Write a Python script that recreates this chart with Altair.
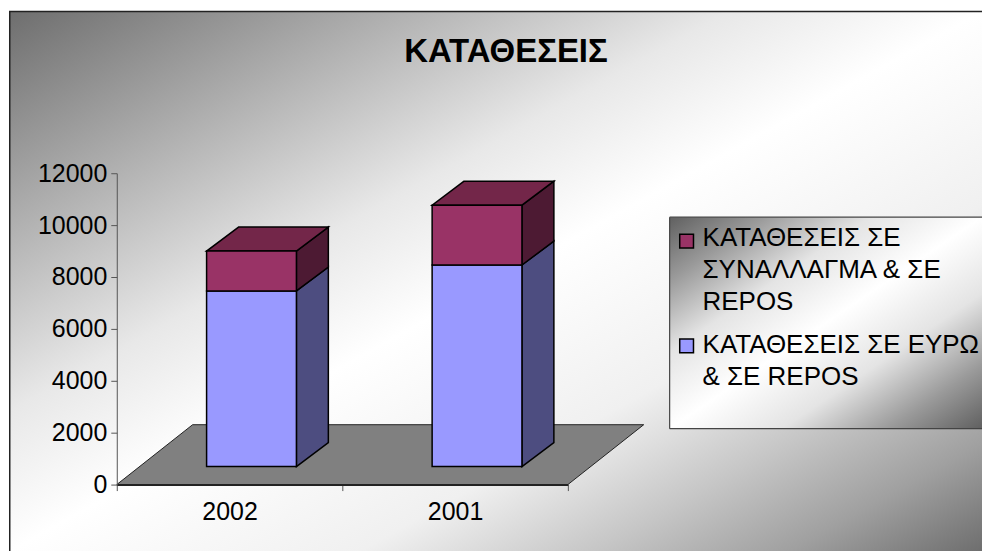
import altair as alt
import pandas as pd

CATEGORIES = ["2002", "2001"]
EURO = [6770, 7770]
FX = [1538, 2308]
YTICKS = [0, 2000, 4000, 6000, 8000, 10000, 12000]
LEGEND_LABELS = ["ΚΑΤΑΘΕΣΕΙΣ ΣΕ|ΣΥΝΑΛΛΑΓΜΑ & ΣΕ|REPOS", "ΚΑΤΑΘΕΣΕΙΣ ΣΕ ΕΥΡΩ|& ΣΕ REPOS"]
LEGEND_COLORS = ["#993366", "#9999FF"]
TITLE = "ΚΑΤΑΘΕΣΕΙΣ"

FONT = "Liberation Sans"
W, H = 452, 312
YMAX = 12000
# pseudo-3D projection, in data units (one category = 1 on x)
BAR_W = 90 / 226
BAR_FRONT = 90 / 226
BASE = 18 / 26 * 1000
DEPTH_X = 32 / 226
DEPTH_Y = 24 / 26 * 1000
FLOOR_X = 76 / 226
FLOOR_Y = 60 / 26 * 1000

sides, tops, fronts = [], [], []
for i, cat in enumerate(CATEGORIES):
    x0 = i + BAR_FRONT
    x1 = x0 + BAR_W
    levels = [BASE, BASE + EURO[i], BASE + EURO[i] + FX[i]]
    faces = [("euro", "#9999FF", "#4D4D80"), ("fx", "#993366", "#4D1A33")]
    for j, (name, front, side) in enumerate(faces):
        fronts.append(dict(x=x0, x2=x1, y=levels[j], y2=levels[j + 1], c=front))
        pid = f"{cat}-{name}"
        sides.append(dict(id=pid, x=x1, y=levels[j], y2=levels[j + 1], c=side))
        sides.append(dict(id=pid, x=x1 + DEPTH_X, y=levels[j] + DEPTH_Y,
                          y2=levels[j + 1] + DEPTH_Y, c=side))
    tops.append(dict(id=cat, y=levels[2], x=x0, x2=x1, c="#732649"))
    tops.append(dict(id=cat, y=levels[2] + DEPTH_Y, x=x0 + DEPTH_X, x2=x1 + DEPTH_X, c="#732649"))

floor = [dict(id="f", y=0, x=0, x2=2, c="#808080"),
         dict(id="f", y=FLOOR_Y, x=FLOOR_X, x2=2 + FLOOR_X, c="#808080")]

xs = alt.Scale(domain=[0, 2], range=[0, W])
ys = alt.Scale(domain=[0, YMAX], range=[H, 0], nice=False)
y_axis = alt.Axis(values=YTICKS, labelFont=FONT, labelFontSize=25, labelColor="black", labelPadding=4,
                  tickSize=6, tickColor="#555555", domainColor="#555555", grid=False, zindex=1,
                  format="d", title=None)
X = alt.X("x:Q", scale=xs, axis=None)
X2 = alt.X2("x2:Q")
Y = alt.Y("y:Q", scale=ys, axis=y_axis, title=None)
Y2 = alt.Y2("y2:Q")
C = alt.Color("c:N", scale=None)


def grad(stops):
    return alt.LinearGradient(
        gradient="linear", x1=0, y1=0, x2=1, y2=1,
        stops=[alt.GradientStop(offset=o, color=c) for o, c in stops])


BG_STOPS = [(0, "#6e6e6e"), (0.2, "#b0b0b0"), (0.37, "#e8e8e8"), (0.5, "#ffffff"),
            (0.68, "#f0f0f0"), (0.8, "#c6c6c6"), (0.9, "#a0a0a0"), (1, "#6e6e6e")]
BOX_STOPS = [(0, "#606060"), (0.15, "#9a9a9a"), (0.32, "#e4e4e4"), (0.5, "#ffffff"),
             (0.68, "#e4e4e4"), (0.85, "#9a9a9a"), (1, "#606060")]

one = alt.Data(values=[{"a": 1}])
L, R, T, B = -108, 867, -162, 379   # outer frame relative to the plot area
bg = alt.Chart(one).mark_rect(fill=grad(BG_STOPS)).encode(
    x=alt.value(L), x2=alt.value(R), y=alt.value(T), y2=alt.value(B))
border_top = alt.Chart(one).mark_rule(color="#222222", strokeWidth=1.5).encode(
    x=alt.value(L), x2=alt.value(R), y=alt.value(T))
border_left = alt.Chart(one).mark_rule(color="#222222", strokeWidth=1.5).encode(
    x=alt.value(L + 0.75), y=alt.value(T), y2=alt.value(B))

LX, LT, LB = 554, 44, 256
legend_box = alt.Chart(one).mark_rect(fill=grad(BOX_STOPS)).encode(
    x=alt.value(LX), x2=alt.value(R), y=alt.value(LT), y2=alt.value(LB))
lb_top = alt.Chart(one).mark_rule(color="#444444", strokeWidth=1.2).encode(
    x=alt.value(LX), x2=alt.value(R), y=alt.value(LT))
lb_bottom = alt.Chart(one).mark_rule(color="#444444", strokeWidth=1.2).encode(
    x=alt.value(LX), x2=alt.value(R), y=alt.value(LB))
lb_left = alt.Chart(one).mark_rule(color="#444444", strokeWidth=1.2).encode(
    x=alt.value(LX), y=alt.value(LT), y2=alt.value(LB))

# real axes: the band axis carries the category labels, ticks on band edges
cat_axis = alt.Chart(pd.DataFrame({"cat": CATEGORIES, "v": [0, 0]})).mark_point(opacity=0).encode(
    x=alt.X("cat:N", sort=CATEGORIES, title=None,
            scale=alt.Scale(domain=CATEGORIES, paddingInner=0, paddingOuter=0),
            axis=alt.Axis(bandPosition=0.5, tickBand="extent", labelAngle=0, labelFont=FONT, labelFontSize=25,
                          labelColor="black", labelPadding=9, tickSize=6, tickColor="#555555",
                          domainColor="#222222", domainWidth=2, grid=False, zindex=1)),
    y=alt.Y("v:Q", scale=ys, axis=y_axis, title=None),
)

floor_l = alt.Chart(pd.DataFrame(floor)).mark_area(orient="horizontal", stroke="#222222", strokeWidth=1).encode(
    y=Y, x=X, x2=X2, color=C, detail="id:N")
side_l = alt.Chart(pd.DataFrame(sides)).mark_area(orient="vertical", stroke="black", strokeWidth=1.5).encode(
    x=X, y=Y, y2=Y2, color=C, detail="id:N")
top_l = alt.Chart(pd.DataFrame(tops)).mark_area(orient="horizontal", stroke="black", strokeWidth=1.5).encode(
    y=Y, x=X, x2=X2, color=C, detail="id:N")
front_l = alt.Chart(pd.DataFrame(fronts)).mark_rect(stroke="black", strokeWidth=1.5).encode(
    x=X, x2=X2, y=Y, y2=Y2, color=C)


def legend_entry(label, color, sym_y, text_y):
    df = pd.DataFrame({"label": [label], "c": [color]})
    sym = alt.Chart(df).mark_point(shape="square", filled=True, size=190, stroke="black",
                                   strokeWidth=1.5, opacity=1).encode(
        x=alt.value(571), y=alt.value(sym_y), color=C)
    txt = alt.Chart(df).transform_calculate(lines="split(datum.label,'|')").mark_text(
        align="left", baseline="top", font=FONT, fontSize=26, lineHeight=32, color="black").encode(
        x=alt.value(587), y=alt.value(text_y), text="lines:N")
    return [sym, txt]


entries = legend_entry(LEGEND_LABELS[0], LEGEND_COLORS[0], 68, 52) + \
    legend_entry(LEGEND_LABELS[1], LEGEND_COLORS[1], 173, 159)

title_txt = alt.Chart(pd.DataFrame({"t": [TITLE]})).mark_text(
    align="center", baseline="alphabetic", font=FONT, fontSize=33, fontWeight="bold", color="black").encode(
    x=alt.value(390), y=alt.value(-111), text="t:N")

chart = alt.layer(
    bg, border_top, border_left, cat_axis, floor_l, side_l, top_l, front_l,
    legend_box, lb_top, lb_bottom, lb_left, *entries, title_txt
).resolve_scale(x="independent", y="shared", color="independent").properties(
    width=W, height=H, padding={"left": 0, "top": 2, "right": 0, "bottom": 0},
).configure_view(stroke=None)

chart.save("out.html", embed_options={"renderer": "svg", "actions": False})
